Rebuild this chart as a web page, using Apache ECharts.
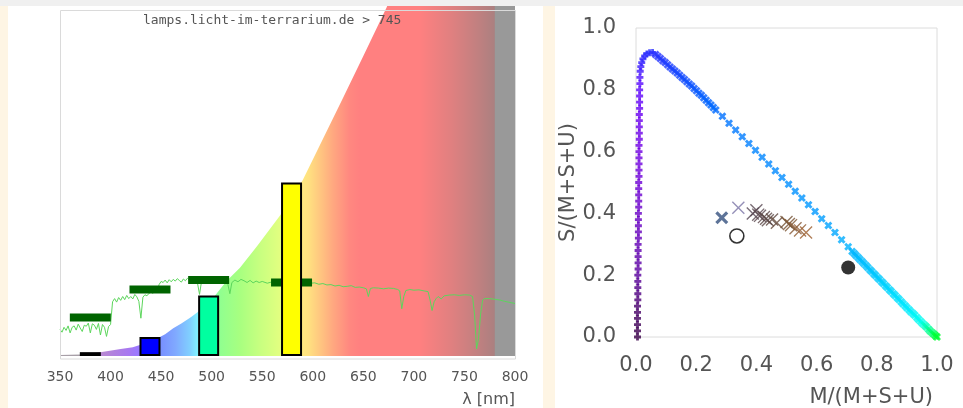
<!DOCTYPE html>
<html lang="de">
<head>
<meta charset="UTF-8">
<title>Lampenspektrum und MSU-Farbraum</title>
<script src="https://cdn.jsdelivr.net/npm/echarts@6/dist/echarts.min.js"></script>
<style>
  html, body { margin: 0; padding: 0; background: #fff; }
  #main { width: 963px; height: 408px; }
</style>
</head>
<body>
<div id="main"></div>
<script>
// ---- left panel: lamp spectrum (arbitrary units, 0..100) ----
const xTicks = [350, 400, 450, 500, 550, 600, 650, 700, 750, 800];
const irNm = [780, 800];
const irVal = [100, 100];

// envelope of the coloured background area
const envNm  = [350, 370, 390, 410, 422, 435, 446, 454, 462, 470, 479, 486, 500, 515, 528, 545, 568, 590, 610, 630, 650, 673, 680, 800];
const envVal = [0.3, 0.4, 1.1, 2.0, 2.5, 3.7, 5.0, 6.2, 7.9, 9.3, 11.0, 12.5, 16.1, 21.5, 25.2, 31.4, 40.3, 50.2, 62.0, 73.8, 85.7, 99.6, 104.5, 104.5];

// measured lamp spectrum (green line)
const specNm = [350, 352, 354, 356, 358, 360, 362, 364, 366, 368, 370, 372, 374, 376, 378, 380, 382, 384, 386, 388,
  390, 392, 394, 396, 398, 400, 402, 404, 406, 408, 410, 412, 414, 416, 418, 420, 422, 424, 426, 428,
  430, 432, 434, 436, 438, 440, 442, 444, 446, 448, 450, 452, 454, 456, 458, 460, 462, 464, 466, 468,
  470, 472, 474, 476, 478, 480, 482, 484, 486, 488, 490, 495, 500, 505, 510, 514, 516, 518, 520, 523,
  526, 529, 532, 535, 538, 541, 544, 547, 550, 555, 560, 565, 570, 575, 580, 585, 590, 594, 598, 602,
  606, 610, 614, 618, 622, 626, 630, 634, 638, 642, 646, 650, 653, 655, 657, 660, 665, 670, 675, 680,
  684, 686, 688, 690, 692, 696, 700, 705, 710, 714, 716, 718, 720, 722, 724, 727, 730, 735, 740, 745,
  750, 755, 758, 760, 762, 764, 766, 768, 770, 775, 780, 785, 790, 795, 800];
const specVal = [7.6, 6.8, 8.2, 7.3, 8.6, 6.6, 8.2, 8.6, 7.4, 9.1, 8.0, 7.0, 8.8, 8.5, 9.4, 6.6, 9.2, 8.8, 7.6, 9.3,
  6.0, 9.0, 8.2, 5.6, 8.4, 9.0, 15.5, 16.4, 15.4, 16.7, 15.9, 17.0, 16.1, 17.3, 16.4, 17.0, 16.3, 17.6, 16.9, 15.6,
  10.8, 16.8, 17.5, 17.2, 17.9, 18.3, 17.9, 18.6, 18.3, 20.4, 21.3, 21.0, 21.7, 20.9, 21.8, 21.2, 21.9, 21.4, 22.1, 21.6,
  21.1, 22.0, 21.5, 22.2, 21.7, 21.3, 21.9, 21.5, 20.8, 17.6, 21.4, 21.8, 21.6, 21.3, 21.7, 21.2, 20.5, 17.8, 21.0, 21.7,
  21.2, 21.9, 21.5, 21.0, 21.6, 20.9, 21.4, 21.0, 21.3, 20.8, 21.2, 21.0, 21.1, 21.0, 21.0, 21.0, 20.9, 21.1, 20.8, 20.9,
  20.5, 20.7, 20.3, 20.4, 20.0, 20.2, 19.8, 19.9, 20.1, 19.6, 19.7, 19.5, 19.2, 17.0, 19.3, 19.5, 19.4, 19.2, 19.4, 19.3,
  19.0, 18.6, 13.5, 17.0, 18.7, 19.0, 18.8, 18.9, 18.6, 18.4, 16.0, 13.0, 15.5, 16.4, 17.0, 16.3, 17.2, 17.4, 17.5, 17.3,
  17.5, 17.4, 17.0, 12.0, 2.0, 5.0, 12.0, 16.0, 16.4, 16.4, 16.2, 16.0, 15.6, 15.3, 15.0];

// cone-weighted bars and their dark green band marks
const barNm  = [380, 439, 497, 579];
const barVal = [1.1, 5.4, 17.3, 49.6];
const bandVal = [11.0, 19.0, 21.7, 21.0];
const barColors = ['#4b0050', '#0000ff', '#00ffa0', '#ffff00'];

// ---- right panel: M/(M+S+U) vs S/(M+S+U) ----
// spectral locus, rising part (U -> S)
const locusUpM = [0.005, 0.005, 0.005, 0.005, 0.005, 0.005, 0.006, 0.006, 0.006, 0.006, 0.006,
  0.007, 0.007, 0.007, 0.007, 0.007, 0.008, 0.008, 0.008, 0.008, 0.008,
  0.009, 0.009, 0.009, 0.009, 0.009, 0.010, 0.010, 0.010, 0.010, 0.010, 0.010,
  0.011, 0.011, 0.011, 0.011, 0.011, 0.012, 0.012, 0.012, 0.012, 0.013, 0.013,
  0.014, 0.016, 0.019, 0.023, 0.029, 0.036, 0.045, 0.055];
const locusUpS = [0.00, 0.02, 0.04, 0.06, 0.08, 0.10, 0.12, 0.14, 0.16, 0.18, 0.20,
  0.22, 0.24, 0.26, 0.28, 0.30, 0.32, 0.34, 0.36, 0.38, 0.40,
  0.42, 0.44, 0.46, 0.48, 0.50, 0.52, 0.54, 0.56, 0.58, 0.60, 0.62,
  0.64, 0.66, 0.68, 0.70, 0.72, 0.74, 0.76, 0.78, 0.80, 0.82, 0.84,
  0.86, 0.875, 0.888, 0.90, 0.91, 0.916, 0.92, 0.921];
// spectral locus, falling part (S -> M)
const locusDownM = [0.065, 0.073, 0.081, 0.089, 0.097, 0.105, 0.113, 0.121, 0.129, 0.137, 0.145, 0.153, 0.161,
  0.169, 0.177, 0.185, 0.193, 0.201, 0.209, 0.217, 0.225, 0.233, 0.241, 0.249, 0.257, 0.265,
  0.287, 0.309, 0.331, 0.353, 0.375, 0.397, 0.419, 0.441, 0.463, 0.485, 0.507, 0.529, 0.551, 0.573, 0.595, 0.617,
  0.639, 0.661, 0.683, 0.705,
  0.718, 0.725, 0.731, 0.738, 0.744, 0.751, 0.757, 0.764, 0.770, 0.777, 0.783, 0.790, 0.796, 0.803, 0.809,
  0.816, 0.822, 0.829, 0.835, 0.842, 0.848, 0.855, 0.861, 0.868, 0.874, 0.881, 0.887, 0.894, 0.900, 0.907,
  0.913, 0.920, 0.926, 0.933, 0.939, 0.946, 0.952, 0.959, 0.965, 0.972, 0.978, 0.985, 0.991, 0.996, 1.0];
const locusDownS = [0.914, 0.908, 0.901, 0.894, 0.888, 0.881, 0.874, 0.867, 0.861, 0.854, 0.847, 0.840, 0.833,
  0.826, 0.819, 0.812, 0.804, 0.797, 0.789, 0.782, 0.774, 0.766, 0.758, 0.751, 0.743, 0.735,
  0.714, 0.692, 0.670, 0.648, 0.626, 0.604, 0.582, 0.560, 0.538, 0.516, 0.494, 0.472, 0.450, 0.428, 0.406, 0.383,
  0.361, 0.338, 0.315, 0.292,
  0.277, 0.270, 0.264, 0.257, 0.251, 0.244, 0.238, 0.231, 0.225, 0.218, 0.212, 0.205, 0.199, 0.192, 0.186,
  0.179, 0.173, 0.166, 0.160, 0.153, 0.147, 0.140, 0.134, 0.127, 0.121, 0.114, 0.108, 0.101, 0.095, 0.088,
  0.082, 0.076, 0.070, 0.063, 0.057, 0.050, 0.044, 0.038, 0.032, 0.025, 0.019, 0.013, 0.008, 0.003, 0.0];

// lamp colour points
const clusterM = [0.388, 0.40, 0.406, 0.412, 0.425, 0.432, 0.438, 0.452, 0.468, 0.50, 0.508, 0.515, 0.53, 0.545, 0.565];
const clusterS = [0.40, 0.41, 0.396, 0.392, 0.388, 0.383, 0.378, 0.38, 0.37, 0.372, 0.366, 0.362, 0.352, 0.345, 0.338];
const blueCross = [0.285, 0.386];
const paleCross = [0.34, 0.418];
const openDot = [0.335, 0.327];
const blackDot = [0.705, 0.225];

const pairs = (a, b) => a.map((v, i) => [v, b[i]]);

const thinX = 'path://M0,1.5L1.5,0L10,8.5L18.5,0L20,1.5L11.5,10L20,18.5L18.5,20L10,11.5L1.5,20L0,18.5L8.5,10Z';
const thickX = 'path://M0,3.5L3.5,0L10,6.5L16.5,0L20,3.5L13.5,10L20,16.5L16.5,20L10,13.5L3.5,20L0,16.5L6.5,10Z';
const boldX = 'path://M0,5L5,0L10,5L15,0L20,5L15,10L20,15L15,20L10,15L5,20L0,15L5,10Z';
const plus = 'path://M6,0H14V6H20V14H14V20H6V14H0V6H6Z';

const spectrumFill = new echarts.graphic.LinearGradient(0, 0, 1, 0, [
  { offset: 0.000, color: '#a8a0a8' },
  { offset: 0.060, color: '#a8a0a8' },
  { offset: 0.090, color: '#b888d0' },
  { offset: 0.150, color: '#a878f0' },
  { offset: 0.170, color: '#9c78ff' },
  { offset: 0.222, color: '#7890ff' },
  { offset: 0.253, color: '#80a8ff' },
  { offset: 0.286, color: '#80d0ff' },
  { offset: 0.300, color: '#80ecff' },
  { offset: 0.330, color: '#80ffc8' },
  { offset: 0.351, color: '#90ff90' },
  { offset: 0.396, color: '#a8ff80' },
  { offset: 0.440, color: '#c8ff80' },
  { offset: 0.480, color: '#e0ff80' },
  { offset: 0.520, color: '#fff080' },
  { offset: 0.547, color: '#ffe080' },
  { offset: 0.570, color: '#ffc880' },
  { offset: 0.600, color: '#ffa880' },
  { offset: 0.636, color: '#ff8880' },
  { offset: 0.660, color: '#ff8080' },
  { offset: 0.790, color: '#ff8080' },
  { offset: 0.860, color: '#e08080' },
  { offset: 0.920, color: '#c08080' },
  { offset: 0.960, color: '#a88080' },
  { offset: 1.000, color: '#a88080' }
]);

const labelFont = 'DejaVu Sans';

const option = {
  animation: false,
  backgroundColor: '#fff',
  graphic: [
    { type: 'rect', z: 0, shape: { x: 0, y: 0, width: 963, height: 6 }, style: { fill: '#f0f0f0' } },
    { type: 'rect', z: 0, shape: { x: 0, y: 6, width: 8, height: 402 }, style: { fill: '#fef5e4' } },
    { type: 'rect', z: 0, shape: { x: 543, y: 6, width: 12, height: 402 }, style: { fill: '#fef5e4' } },
    { type: 'rect', z: 100, shape: { x: 60.5, y: 10.5, width: 455, height: 348.5 },
      style: { fill: 'none', stroke: '#dadada', lineWidth: 1 } },
    { type: 'text', z: 100, x: 143, y: 14,
      style: { text: 'lamps.licht-im-terrarium.de > 745', font: '13px "DejaVu Sans Mono"', fill: '#555' } }
  ],
  grid: [
    { left: 60, right: 448, top: 6, bottom: 49 },
    { left: 636, right: 26, top: 28, bottom: 70, show: true, borderColor: '#dcdcdc', borderWidth: 1 }
  ],
  xAxis: [
    {
      gridIndex: 0, type: 'value', min: 350, max: 800, interval: 50,
      axisLine: { show: false }, axisTick: { show: false }, splitLine: { show: false },
      axisLabel: { color: '#555', fontSize: 14, fontFamily: labelFont, margin: 14,
        customValues: xTicks },
      name: 'λ [nm]', nameLocation: 'end', nameGap: 0,
      nameTextStyle: { color: '#555', fontSize: 16, fontFamily: labelFont, align: 'right',
        verticalAlign: 'top', padding: [36, 0, 0, 0] }
    },
    {
      gridIndex: 1, type: 'value', min: 0, max: 1, interval: 0.2,
      axisLine: { show: false }, axisTick: { show: false }, splitLine: { show: false },
      axisLabel: { color: '#555', fontSize: 21, fontFamily: labelFont, margin: 18,
        formatter: v => v.toFixed(1) },
      name: 'M/(M+S+U)', nameLocation: 'end', nameGap: -4,
      nameTextStyle: { color: '#555', fontSize: 21, fontFamily: labelFont, align: 'right',
        verticalAlign: 'top', padding: [50, 0, 0, 0] }
    }
  ],
  yAxis: [
    { gridIndex: 0, type: 'value', min: 0, max: 100, show: false },
    {
      gridIndex: 1, type: 'value', min: 0, max: 1, interval: 0.2,
      axisLine: { show: false }, axisTick: { show: false }, splitLine: { show: false },
      axisLabel: { color: '#555', fontSize: 21, fontFamily: labelFont, margin: 20,
        formatter: v => v.toFixed(1) },
      name: 'S/(M+S+U)', nameLocation: 'middle', nameGap: 43,
      nameTextStyle: { color: '#555', fontSize: 21, fontFamily: labelFont }
    }
  ],
  visualMap: [
    { type: 'continuous', show: false, seriesIndex: 5, dimension: 1, min: 0, max: 0.92,
      inRange: { color: ['#3a0048', '#4a0070', '#5a00a0', '#6400b8', '#6a00c8', '#6e00d8', '#7000e4', '#6a00f0', '#5a08ff', '#2a30ff'] } },
    { type: 'continuous', show: false, seriesIndex: 6, dimension: 0, min: 0.05, max: 1,
      inRange: { color: ['#2a2aff', '#1e3cff', '#1448ff', '#0a58ff', '#0066ff', '#0074ff', '#007cff', '#0084ff', '#0088ff', '#008eff',
        '#0094ff', '#009aff', '#00a4ff', '#00b0ff', '#00bcff', '#00c8ff', '#00d8ff', '#00e8ff', '#00fff0', '#00ff30'] } },
    { type: 'continuous', show: false, seriesIndex: 7, dimension: 0, min: 0.38, max: 0.57,
      inRange: { color: ['#574858', '#5e4a46', '#785434', '#a06030'] } }
  ],
  series: [
    {
      name: 'Hintergrund', type: 'line', xAxisIndex: 0, yAxisIndex: 0, z: 1,
      data: pairs(envNm, envVal), symbol: 'none', silent: true,
      lineStyle: { width: 0 }, areaStyle: { color: spectrumFill, opacity: 1 }
    },
    {
      name: 'IR', type: 'line', xAxisIndex: 0, yAxisIndex: 0, z: 1.5, silent: true,
      data: pairs(irNm, irVal), symbol: 'none',
      lineStyle: { width: 0 }, areaStyle: { color: '#999999', opacity: 1 }
    },
    {
      name: 'Spektrum', type: 'line', xAxisIndex: 0, yAxisIndex: 0, z: 2,
      data: pairs(specNm, specVal), symbol: 'none',
      lineStyle: { color: '#5cd65c', width: 1 }
    },
    {
      name: 'Band', type: 'scatter', xAxisIndex: 0, yAxisIndex: 0, z: 3,
      data: pairs(barNm, bandVal), symbol: 'rect', symbolSize: [41, 8],
      itemStyle: { color: '#006400', opacity: 1 }
    },
    {
      name: 'Zapfen', type: 'bar', xAxisIndex: 0, yAxisIndex: 0, z: 4,
      data: pairs(barNm, barVal), barWidth: 21,
      itemStyle: { color: p => barColors[p.dataIndex], borderColor: '#000', borderWidth: 2 }
    },
    {
      name: 'Locus U-S', type: 'scatter', xAxisIndex: 1, yAxisIndex: 1, z: 3,
      data: pairs(locusUpM, locusUpS), symbol: plus, symbolSize: 7
    },
    {
      name: 'Locus S-M', type: 'scatter', xAxisIndex: 1, yAxisIndex: 1, z: 3,
      data: pairs(locusDownM, locusDownS), symbol: boldX, symbolSize: 8
    },
    {
      name: 'Lampen', type: 'scatter', xAxisIndex: 1, yAxisIndex: 1, z: 4,
      data: pairs(clusterM, clusterS), symbol: thinX, symbolSize: 13
    },
    {
      name: 'Referenz', type: 'scatter', xAxisIndex: 1, yAxisIndex: 1, z: 4,
      data: [blueCross], symbol: thickX, symbolSize: 13, itemStyle: { color: '#34507e' }
    },
    {
      name: 'Referenz 2', type: 'scatter', xAxisIndex: 1, yAxisIndex: 1, z: 4,
      data: [paleCross], symbol: thinX, symbolSize: 13, itemStyle: { color: '#7a74a6' }
    },
    {
      name: 'Weiss', type: 'scatter', xAxisIndex: 1, yAxisIndex: 1, z: 4,
      data: [openDot], symbol: 'circle', symbolSize: 14,
      itemStyle: { color: '#fff', borderColor: '#000', borderWidth: 1.6 }
    },
    {
      name: 'Punkt', type: 'scatter', xAxisIndex: 1, yAxisIndex: 1, z: 4,
      data: [blackDot], symbol: 'circle', symbolSize: 14, itemStyle: { color: '#000' }
    }
  ]
};

const chart = echarts.init(document.getElementById('main'));
chart.setOption(option);
</script>
</body>
</html>
